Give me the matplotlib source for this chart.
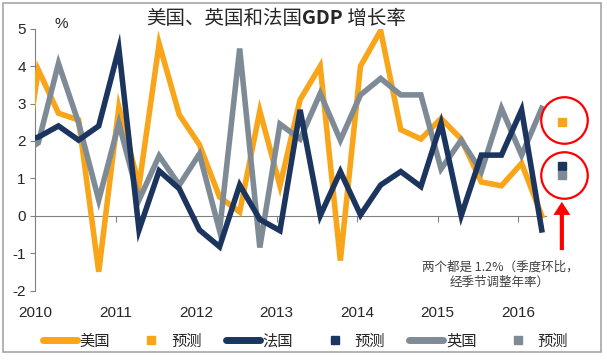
import numpy as np
import pandas as pd
import matplotlib
matplotlib.use("Agg")
import matplotlib.pyplot as plt
from matplotlib.lines import Line2D
from matplotlib.patches import Rectangle
from matplotlib.offsetbox import TextArea, HPacker, AnchoredOffsetbox

plt.rcParams['font.family'] = ['Liberation Sans', 'Noto Sans CJK SC']
plt.rcParams['axes.unicode_minus'] = False

# quarterly GDP growth, % q/q annualised (2009Q4 point is only a clipped stub)
quarters = pd.period_range("2009Q4", "2016Q2", freq="Q")
us = [0.3, 3.9, 2.74, 2.56, -1.5, 2.9, 0.8, 4.6, 2.7, 1.9, 0.5, 0.1, 2.8, 0.8, 3.1,
      4.0, -1.2, 4.0, 4.95, 2.3, 2.05, 2.6, 2.05, 0.9, 0.8, 1.4, 0.0]
france = [2.0, 2.1, 2.4, 2.02, 2.4, 4.47, -0.38, 1.2, 0.72, -0.38, -0.83, 0.82, -0.1,
          -0.4, 2.83, 0.0, 1.18, 0.02, 0.82, 1.18, 0.78, 2.47, 0.0, 1.62, 1.62, 2.83, -0.38]
uk = [1.6, 1.95, 4.07, 2.48, 0.42, 2.47, 0.42, 1.6, 0.82, 1.65, -0.4, 4.47, -0.85,
      2.45, 2.05, 3.27, 2.02, 3.23, 3.67, 3.23, 3.23, 1.25, 2.02, 1.18, 2.87, 1.62, 2.87]

forecast_quarter = pd.Period("2016Q3", freq="Q")
us_forecast = 2.5
france_forecast = 1.32
uk_forecast = 1.1
circle_values = [2.55, 1.1]

years = [2010, 2011, 2012, 2013, 2014, 2015, 2016]
yticks = [-2, -1, 0, 1, 2, 3, 4, 5]

ORANGE = "#F9A51A"
NAVY = "#1C355E"
GRAY = "#7E8B96"
TXT = "#262626"
AXC = "#808080"
TICK_SHIFT = 0.165


def qpos(q):
    return (q.year - 2010) * 4 + q.quarter - 1


x = [qpos(q) for q in quarters]
xf = qpos(forecast_quarter)

fig = plt.figure(figsize=(6.07, 3.64), dpi=100)
ax = fig.add_axes([35 / 607, 73.5 / 364, 565 / 607, 261.8 / 364])

lw = 4
ax.plot(x, us, color=ORANGE, lw=lw, solid_joinstyle="miter", zorder=3)
ax.plot(x, uk, color=GRAY, lw=lw, solid_joinstyle="miter", zorder=4)
ax.plot(x, france, color=NAVY, lw=lw, solid_joinstyle="miter", zorder=5)

ax.plot([xf], [us_forecast], "s", color=ORANGE, ms=5.3, zorder=6)
ax.plot([xf], [france_forecast], "s", color=NAVY, ms=5.3, zorder=6)
ax.plot([xf], [uk_forecast], "s", color=GRAY, ms=5.3, zorder=6)

ax.plot([xf + 0.1] * 2, circle_values, "o", ms=33.5, mfc="none", mec="red", mew=1.6,
        zorder=7, clip_on=False)

ax.annotate("", xy=(xf, 0.37), xytext=(xf, -0.92),
            arrowprops=dict(arrowstyle="simple,head_length=0.94,head_width=1.22,tail_width=0.3",
                            fc="red", ec="red", lw=0, shrinkA=0, shrinkB=0, mutation_scale=10),
            annotation_clip=False, zorder=7)

ax.text(22.93, -1.58, "两个都是 1.2%（季度环比，\n经季节调整年率）", ha="center", va="center",
        fontsize=9, color="#404040", linespacing=1.15, family=["Noto Sans CJK SC"])

ax.set_xlim(-TICK_SHIFT, -TICK_SHIFT + 565 / 20.136)
ax.set_ylim(-2, 5)

for s in ["top", "right"]:
    ax.spines[s].set_visible(False)
ax.spines["left"].set_color(AXC)
ax.spines["bottom"].set_color(AXC)
ax.spines["bottom"].set_position(("data", 0))
ax.spines["bottom"].set_bounds(-TICK_SHIFT, 25.2)

ax.set_xticks([(y - 2010) * 4 - TICK_SHIFT for y in years])
ax.set_xticklabels([str(y) for y in years])
ax.set_yticks(yticks)
ax.tick_params(axis="x", direction="out", length=4, color=AXC, pad=61,
               labelsize=11, labelcolor=TXT)
ax.tick_params(axis="y", direction="out", length=3.6, color=AXC, pad=3,
               labelsize=11, labelcolor=TXT)

fig.text(61.7 / 607, 1 - 24 / 364, "%", ha="center", va="center", fontsize=11, color=TXT)

# title with bold GDP
tp = dict(fontsize=14, color=TXT, family=["Noto Sans CJK SC"])
parts = [TextArea("美国、英国和法国", textprops=tp),
         TextArea("GDP", textprops=dict(tp, fontweight="bold")),
         TextArea(" 增长率", textprops=tp)]
title_box = HPacker(children=parts, align="baseline", pad=0, sep=0)
fig.add_artist(AnchoredOffsetbox(loc="center", child=title_box, frameon=False, pad=0,
                                 borderpad=0, bbox_to_anchor=(276 / 607, 1 - 19 / 364),
                                 bbox_transform=fig.transFigure))

handles = [
    Line2D([], [], color=ORANGE, lw=5, solid_capstyle="round"),
    Line2D([], [], color=ORANGE, marker="s", ls="none", ms=5.5),
    Line2D([], [], color=NAVY, lw=5, solid_capstyle="round"),
    Line2D([], [], color=NAVY, marker="s", ls="none", ms=5.5),
    Line2D([], [], color=GRAY, lw=5, solid_capstyle="round"),
    Line2D([], [], color=GRAY, marker="s", ls="none", ms=5.5),
]
labels = ["美国", "预测", "法国", "预测", "英国", "预测"]
fig.legend(handles, labels, loc="center", bbox_to_anchor=(305.5 / 607, 1 - 341 / 364),
           ncol=6, frameon=False, handlelength=2.2, handletextpad=0.2, columnspacing=1.6,
           prop=dict(family=["Noto Sans CJK SC"], size=11), labelcolor=TXT)

fig.add_artist(Rectangle((3 / 607, 1 - 352 / 364), 598 / 607, 349 / 364,
                         transform=fig.transFigure, fill=False, ec="#a6a6a6", lw=1.2))

fig.savefig("out.png", dpi=100)
